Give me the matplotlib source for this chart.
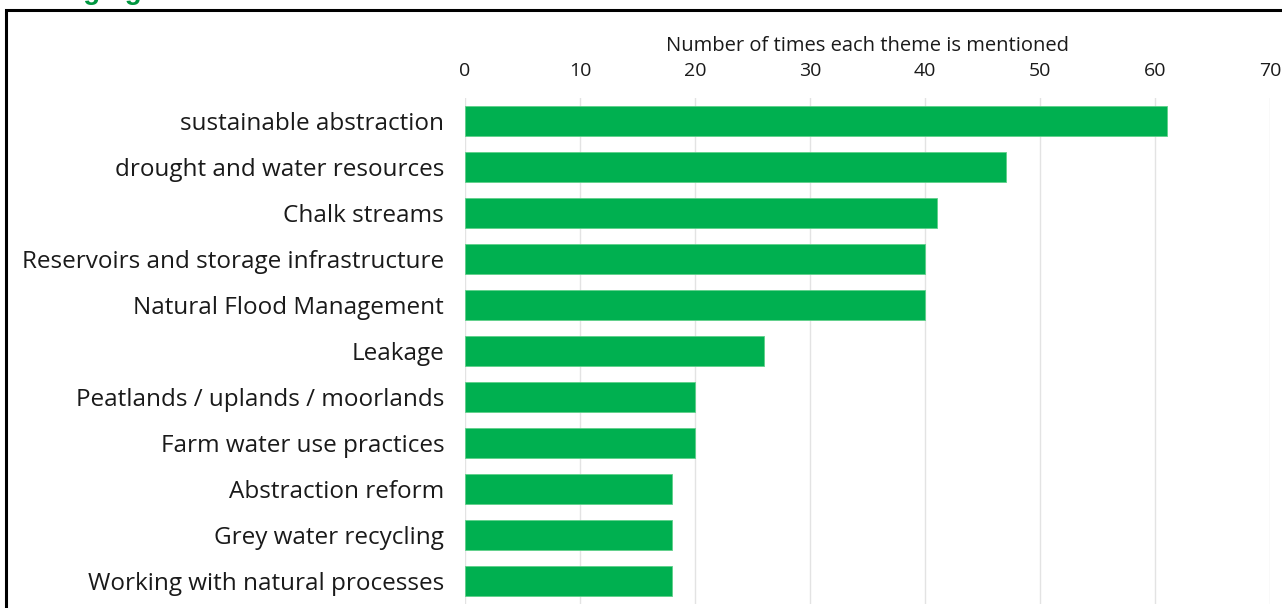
import matplotlib
matplotlib.use("Agg")
import matplotlib.pyplot as plt
from matplotlib.patches import Rectangle

themes = [
    "sustainable abstraction",
    "drought and water resources",
    "Chalk streams",
    "Reservoirs and storage infrastructure",
    "Natural Flood Management",
    "Leakage",
    "Peatlands / uplands / moorlands",
    "Farm water use practices",
    "Abstraction reform",
    "Grey water recycling",
    "Working with natural processes",
]
mentions = [61, 47, 41, 40, 40, 26, 20, 20, 18, 18, 18]
x_ticks = [0, 10, 20, 30, 40, 50, 60, 70]

W, H = 1282, 608
fig = plt.figure(figsize=(W / 100, H / 100), dpi=100)
plt.rcParams["font.family"] = ["Open Sans", "DejaVu Sans"]

# section heading, mostly above the top edge
fig.text(14 / W, 1 + 1 / H, "Changing water environment", color="#00963f",
         fontsize=20, fontweight="bold", family="Liberation Sans",
         ha="left", va="baseline")

# frame around the chart
frame = Rectangle((6 / W, -20 / H), 1.0, 1 - 10 / H + 20 / H,
                  transform=fig.transFigure, fill=False,
                  edgecolor="black", linewidth=2.2, zorder=0)
fig.patches.append(frame)

ax = fig.add_axes([465 / W, 4 / H, 805 / W, 506 / H])
pos = list(range(len(themes)))
ax.barh(pos, mentions, height=0.66, color="#00b050",
        edgecolor="#5fd08a", linewidth=0.6, zorder=3)
ax.set_ylim(len(themes) - 0.5, -0.5)
ax.set_xlim(0, 70)
ax.set_yticks(pos)
ax.set_yticklabels(themes, fontsize=17.5, color="#1a1a1a")
ax.set_xticks(x_ticks)
ax.xaxis.tick_top()
ax.xaxis.set_label_position("top")
ax.tick_params(axis="x", labelsize=14, colors="#1a1a1a", length=0, pad=13)
ax.tick_params(axis="y", length=0, pad=15)
ax.set_xlabel("Number of times each theme is mentioned", fontsize=14.5,
              color="#1a1a1a", labelpad=8)
ax.grid(axis="x", color="#e3e3e3", linewidth=1, zorder=0)
for s in ax.spines.values():
    s.set_visible(False)

fig.savefig("out.png", dpi=100)
